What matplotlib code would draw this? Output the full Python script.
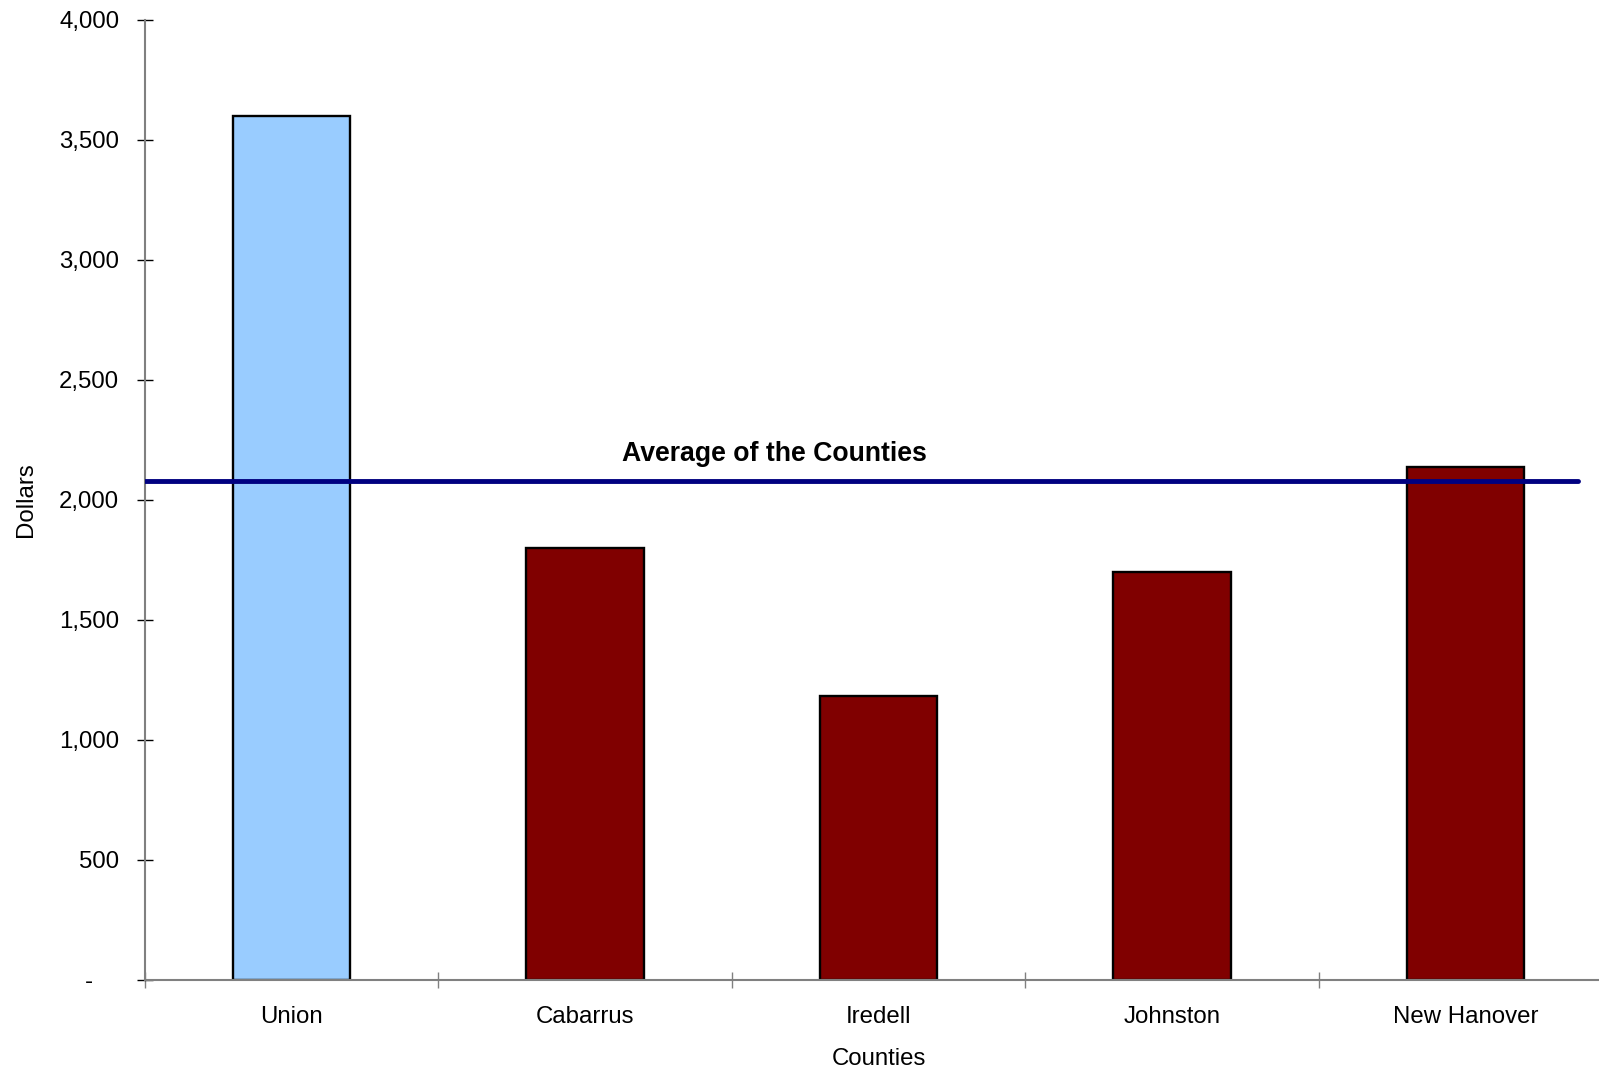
import matplotlib
matplotlib.use("Agg")
import matplotlib.pyplot as plt
from matplotlib.ticker import FuncFormatter, MultipleLocator

counties = ["Union", "Cabarrus", "Iredell", "Johnston", "New Hanover"]
dollars = [3600, 1800, 1183, 1700, 2138]
bar_colors = ["#99CCFF", "#800000", "#800000", "#800000", "#800000"]
average_value = 2078
average_label = "Average of the Counties"

plt.rcParams["font.family"] = ["Liberation Sans", "DejaVu Sans"]
FS = 17.3

fig = plt.figure(figsize=(15.99, 10.68), dpi=100)
ax = fig.add_axes([0.0907, 0.0824, 1.0081 - 0.0907, 0.9813 - 0.0824])

x = list(range(len(counties)))
ax.bar(x, dollars, width=0.4, color=bar_colors, edgecolor="black", linewidth=1.7, zorder=2)

# average line runs from the y axis most of the way across
ax.plot([-0.5, 4.385], [average_value, average_value], color="#000080", linewidth=3.5,
        solid_capstyle="round", zorder=3)
ax.text(1.647, 2190, average_label, ha="center", va="center", fontsize=19.2, fontweight="bold")

ax.set_xlim(-0.5, 4.5)
ax.set_ylim(0, 4000)

ax.yaxis.set_major_locator(MultipleLocator(500))
ax.yaxis.set_major_formatter(FuncFormatter(lambda v, p: "-    " if v == 0 else f"{v:,.0f}"))

ax.set_xticks([i + 0.5 for i in range(-1, len(counties))])
ax.set_xticklabels([])
ax.set_xticks(x, minor=True)
ax.set_xticklabels(counties, minor=True)

for side in ["top", "right"]:
    ax.spines[side].set_visible(False)
for side in ["left", "bottom"]:
    ax.spines[side].set_color("#808080")
    ax.spines[side].set_linewidth(1.5)

ax.tick_params(axis="y", direction="inout", length=11, width=1, color="black",
               labelsize=FS, pad=13)
ax.tick_params(axis="x", which="major", direction="inout", length=12, width=1, color="#808080")
ax.tick_params(axis="x", which="minor", length=0, labelsize=FS, pad=19)

ax.set_ylabel("Dollars", fontsize=FS, labelpad=16)
ax.set_xlabel("Counties", fontsize=FS, labelpad=14)

fig.savefig("out.png", dpi=100)
